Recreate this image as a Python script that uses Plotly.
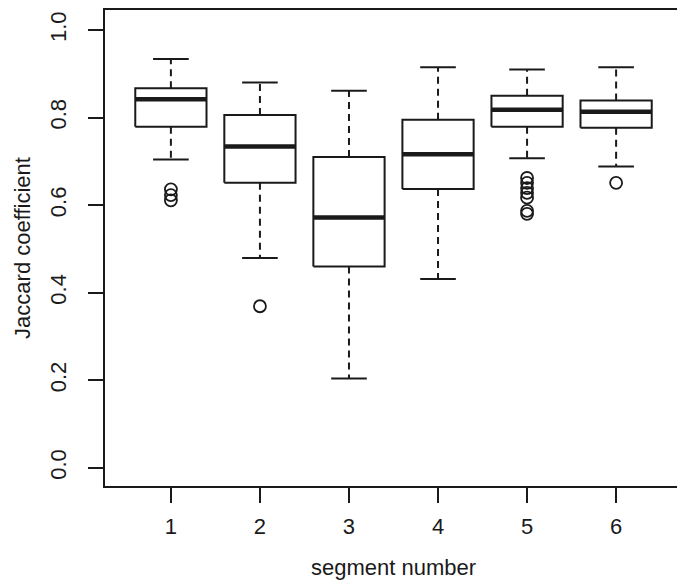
import plotly.graph_objects as go

segments = [1, 2, 3, 4, 5, 6]
lower_whisker = [0.704, 0.479, 0.204, 0.431, 0.707, 0.688]
q1 = [0.779, 0.651, 0.460, 0.637, 0.779, 0.777]
median = [0.842, 0.734, 0.572, 0.716, 0.818, 0.813]
q3 = [0.867, 0.806, 0.710, 0.795, 0.850, 0.839]
upper_whisker = [0.934, 0.880, 0.861, 0.915, 0.910, 0.915]
outliers = [
    [0.636, 0.623, 0.611],
    [0.369],
    [],
    [],
    [0.662, 0.651, 0.639, 0.628, 0.617, 0.587, 0.580],
    [0.651],
]
y_ticks = [0.0, 0.2, 0.4, 0.6, 0.8, 1.0]

INK = "#1a1a1a"
BOX_HALF = 0.4
CAP_HALF = 0.2

fig = go.Figure()
for i, s in enumerate(segments):
    # whiskers (dashed)
    fig.add_trace(go.Scatter(x=[s, s], y=[q3[i], upper_whisker[i]], mode="lines",
                             line=dict(color=INK, width=2, dash="7px,5px")))
    fig.add_trace(go.Scatter(x=[s, s], y=[q1[i], lower_whisker[i]], mode="lines",
                             line=dict(color=INK, width=2, dash="7px,5px")))
    # caps
    fig.add_trace(go.Scatter(x=[s - CAP_HALF, s + CAP_HALF], y=[upper_whisker[i]] * 2, mode="lines",
                             line=dict(color=INK, width=2)))
    fig.add_trace(go.Scatter(x=[s - CAP_HALF, s + CAP_HALF], y=[lower_whisker[i]] * 2, mode="lines",
                             line=dict(color=INK, width=2)))
    # box
    fig.add_trace(go.Scatter(x=[s - BOX_HALF, s + BOX_HALF, s + BOX_HALF, s - BOX_HALF, s - BOX_HALF],
                             y=[q1[i], q1[i], q3[i], q3[i], q1[i]], mode="lines",
                             fill="toself", fillcolor="white",
                             line=dict(color=INK, width=2)))
    # median
    fig.add_trace(go.Scatter(x=[s - BOX_HALF, s + BOX_HALF], y=[median[i]] * 2, mode="lines",
                             line=dict(color=INK, width=4.5)))
    # outliers
    if outliers[i]:
        fig.add_trace(go.Scatter(x=[s] * len(outliers[i]), y=outliers[i], mode="markers",
                                 marker=dict(symbol="circle-open", size=12, color=INK,
                                             line=dict(width=1.8, color=INK))))

font = dict(family="Liberation Sans, Arial, sans-serif", size=22, color=INK)
fig.update_layout(
    width=677, height=576,
    margin=dict(l=97, r=3, t=2, b=98),
    paper_bgcolor="white", plot_bgcolor="white",
    showlegend=False, hovermode=False,
    font=font,
    xaxis=dict(range=[0.26, 6.74], tickvals=segments, ticktext=[str(s) for s in segments],
               automargin=False,
               showgrid=False, zeroline=False, showline=True, mirror=True,
               linecolor=INK, linewidth=2, ticks="outside", ticklen=15, tickwidth=2,
               tickcolor=INK, tickfont=font, ticklabelstandoff=5,
               title=dict(text="segment number", font=font, standoff=21)),
    yaxis=dict(range=[-0.0416, 1.0457], tickvals=y_ticks, ticktext=[f"{v:.1f}" for v in y_ticks],
               tickangle=-90, automargin=False, ticklabeloverflow="allow",
               showgrid=False, zeroline=False, showline=True, mirror=True,
               linecolor=INK, linewidth=2, ticks="outside", ticklen=15, tickwidth=2,
               tickcolor=INK, tickfont=font, ticklabelstandoff=13,
               title=dict(text="Jaccard coefficient", font=font, standoff=10)),
)

fig.write_html("out.html")
